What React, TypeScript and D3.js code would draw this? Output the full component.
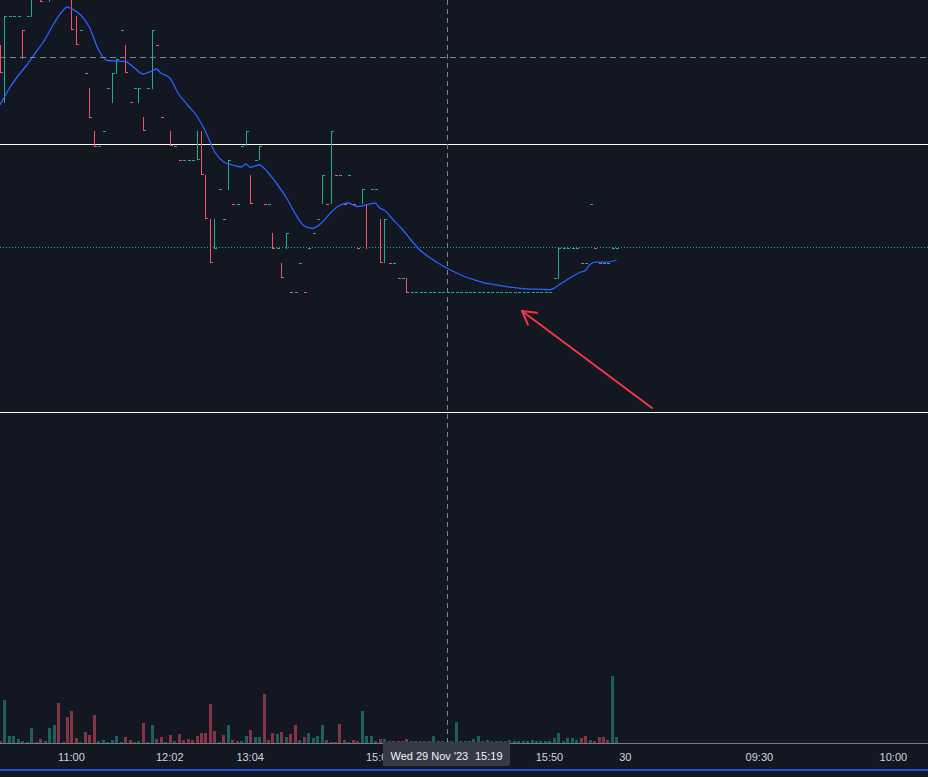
import React from 'react';
import * as d3 from 'd3';

const W = 928;
const H = 777;

// ---- HLC bars (price), index = bar number ----
const barHigh: (number | null)[] = [
  13.75, 14.04, 14.04, 14.04, 14.04, 13.90, 14.04, 14.25, 14.40, 14.28,
  14.35, 14.30, 14.50, 14.60, 14.45, 14.45, 14.30, 14.04, 13.90, 13.47,
  13.32, 12.89, 12.74, 12.89, 13.32, 13.47, 13.61, 13.90, 13.75, 13.18,
  13.32, 13.32, 13.03, 13.32, 13.90, 13.75, 13.03, null, 12.89, 12.74,
  12.60, 12.60, 12.60, 12.60, 12.89, 12.89, 12.45, 12.01, 12.01, 12.31,
  12.01, 12.60, 12.16, 12.16, 12.74, 12.89, 12.45, 12.60, 12.74, 12.16,
  12.16, 11.87, 11.72, 11.57, 11.87, 11.28, 11.28, 11.57, 11.28, 11.72,
  11.87, 12.01, 12.45, 12.16, 12.89, 12.45, 12.45, 12.16, 12.45, 12.16,
  11.72, 12.31, 12.16, 12.31, 12.31, 12.01, 12.01, 11.57, 11.57, 11.42,
  11.42, 11.42, 11.28, 11.28, 11.28, 11.28, 11.28, 11.28, 11.28, 11.28,
  11.28, 11.28, 11.28, 11.28, 11.28, 11.28, 11.28, 11.28, 11.28, 11.28,
  11.28, 11.28, 11.28, 11.28, 11.28, 11.28, 11.28, 11.28, 11.28, 11.28,
  11.28, 11.28, 11.28, 11.28, 11.42, 11.72, 11.72, 11.72, 11.72, 11.72,
  11.57, 11.57, 12.16, 11.72, 11.57, 11.57, 11.57, 11.72, 11.72,
];
const barLow: (number | null)[] = [
  13.48, 13.18, 14.04, 14.04, 14.04, 13.62, 14.04, 14.04, 14.28, 14.185,
  14.23, 14.185, 14.32, 14.40, 14.35, 14.30, 13.91, 13.76, 13.90, 13.47,
  13.03, 12.74, 12.74, 12.89, 13.32, 13.18, 13.47, 13.90, 13.48, 13.18,
  13.32, 13.18, 12.90, 13.32, 13.32, 13.75, 13.03, null, 12.75, 12.74,
  12.60, 12.60, 12.60, 12.60, 12.605, 12.46, 12.02, 11.58, 11.72, 12.31,
  12.01, 12.31, 12.16, 12.16, 12.74, 12.75, 12.17, 12.60, 12.61, 12.16,
  12.16, 11.72, 11.72, 11.43, 11.72, 11.28, 11.28, 11.57, 11.28, 11.72,
  11.87, 12.01, 12.17, 12.16, 12.17, 12.45, 12.45, 12.16, 12.45, 12.16,
  11.72, 12.17, 11.72, 12.31, 12.31, 11.58, 11.58, 11.57, 11.57, 11.42,
  11.42, 11.28, 11.28, 11.28, 11.28, 11.28, 11.28, 11.28, 11.28, 11.28,
  11.28, 11.28, 11.28, 11.28, 11.28, 11.28, 11.28, 11.28, 11.28, 11.28,
  11.28, 11.28, 11.28, 11.28, 11.28, 11.28, 11.28, 11.28, 11.28, 11.28,
  11.28, 11.28, 11.28, 11.28, 11.42, 11.42, 11.72, 11.72, 11.72, 11.72,
  11.57, 11.57, 12.16, 11.72, 11.57, 11.57, 11.57, 11.72, 11.72,
];
const barClose: (number | null)[] = [
  13.48, 14.04, 14.04, 14.04, 14.04, 13.90, 14.04, 14.25, 14.32, 14.19,
  14.30, 14.28, 14.45, 14.42, 14.40, 14.32, 13.91, 13.76, 13.90, 13.47,
  13.03, 12.74, 12.74, 12.89, 13.32, 13.47, 13.61, 13.90, 13.48, 13.18,
  13.32, 13.32, 12.90, 13.32, 13.90, 13.75, 13.03, null, 12.75, 12.74,
  12.60, 12.60, 12.60, 12.60, 12.605, 12.46, 12.02, 11.58, 11.72, 12.31,
  12.01, 12.60, 12.16, 12.16, 12.74, 12.89, 12.17, 12.60, 12.74, 12.16,
  12.16, 11.72, 11.72, 11.43, 11.87, 11.28, 11.28, 11.57, 11.28, 11.72,
  11.87, 12.01, 12.45, 12.16, 12.89, 12.45, 12.45, 12.16, 12.45, 12.16,
  11.72, 12.31, 12.16, 12.31, 12.31, 11.58, 12.01, 11.57, 11.57, 11.42,
  11.42, 11.28, 11.28, 11.28, 11.28, 11.28, 11.28, 11.28, 11.28, 11.28,
  11.28, 11.28, 11.28, 11.28, 11.28, 11.28, 11.28, 11.28, 11.28, 11.28,
  11.28, 11.28, 11.28, 11.28, 11.28, 11.28, 11.28, 11.28, 11.28, 11.28,
  11.28, 11.28, 11.28, 11.28, 11.42, 11.72, 11.72, 11.72, 11.72, 11.72,
  11.57, 11.57, 12.16, 11.72, 11.57, 11.57, 11.57, 11.72, 11.72,
];
// u = up colour, d = down colour (as drawn), ten bars per chunk
const barDir = [
  'duuuuduuud', 'uuududddud', 'dduuuuuudd', 'uuduuddudu', 'duuuuddduu',
  'duduuuduud', 'udududuudu', 'uuudududud', 'duduududud', 'uduuuuuuuu',
  'uuuuuuuuuu', 'uuuuuuuuuu', 'uuuuuuuuuu', 'duudduuuu',
].join('');

// ---- Volume (thousands) ----
const volume: number[] = [
  2.3, 43, 7.3, 7.3, 4.3, 2.3, 1.3, 15.3, 1.3, 4.3,
  2.3, 15.3, 18.3, 40.3, 1.3, 26.3, 32.3, 5.3, 1.3, 11.3,
  8.3, 28.3, 2.3, 3.3, 1.3, 3.3, 7.3, 1.3, 6.3, 3.3,
  1.3, 2.3, 20.3, 1.3, 18.3, 4.3, 6.3, 1.3, 8.3, 2.3,
  9.3, 3.3, 4.3, 3.3, 7.3, 10.3, 10.3, 39.3, 12.3, 1.3,
  8.3, 18.3, 3.3, 2.3, 2.3, 7.3, 13.3, 6.3, 6.3, 49.3,
  3.3, 10.3, 9.3, 11.3, 6.3, 9.3, 18.3, 3.3, 6.3, 10.3,
  5.3, 7.3, 18.3, 3.3, 1.3, 1.3, 19.3, 3.3, 1.3, 3.3,
  2.3, 32.3, 7.3, 7.3, 2.3, 4.3, 4.3, 2.3, 2.3, 2.3,
  2.3, 4.3, 2.3, 2.3, 2.3, 2.3, 2.3, 7.3, 2.3, 2.3,
  2.3, 2.3, 21.3, 2.3, 2.3, 2.3, 4.3, 7.3, 2.3, 3.3,
  2.3, 2.3, 2.3, 2.3, 3.3, 2.3, 2.3, 2.3, 2.3, 3.3,
  2.3, 2.3, 2.3, 2.3, 5.3, 10.3, 2.3, 5.3, 5.3, 3.3,
  5.3, 7.3, 3.3, 2.3, 6.3, 6.3, 3.3, 67, 6.3,
];
const volDir = [
  'duuuuuuuud', 'uuududddud', 'dduuuuuudd', 'uuduuddudu', 'dddddddddu',
  'dudduuduud', 'ddududdudu', 'uuududddud', 'duuuududdd', 'dduuuuuuuu',
  'uuuuuuuuuu', 'uuuuuuuuuu', 'uuuuuuuuuu', 'ddudddduu',
].join('');

// ---- Moving average ----
const maIndex = [
  0, 2, 4, 6, 8, 10, 12, 14, 15, 16, 18, 20, 22, 24, 26, 28, 30, 32, 34, 35,
  36, 38, 40, 42, 44, 46, 48, 50, 52, 54, 55, 56, 58, 60, 62, 64, 66, 68, 70, 72,
  74, 76, 78, 80, 82, 84, 85, 86, 88, 90, 92, 94, 96, 98, 100, 102, 104, 106, 108, 110,
  112, 114, 116, 118, 120, 122, 123, 124, 125, 126, 128, 130, 131, 132, 133, 134, 136, 138,
];
const maValue = [
  13.15, 13.31, 13.44, 13.55, 13.675, 13.80, 13.96, 14.09, 14.13, 14.112,
  14.053, 13.93, 13.705, 13.595, 13.59, 13.585, 13.525, 13.46, 13.49, 13.51,
  13.47, 13.42, 13.26, 13.15, 13.045, 12.885, 12.685, 12.583, 12.55, 12.53,
  12.56, 12.527, 12.55, 12.475, 12.36, 12.23, 12.07, 11.945, 11.915, 11.97,
  12.073, 12.145, 12.17, 12.135, 12.152, 12.168, 12.12, 12.10, 12.003, 11.91,
  11.80, 11.70, 11.63, 11.573, 11.52, 11.475, 11.435, 11.403, 11.377, 11.358,
  11.343, 11.328, 11.319, 11.312, 11.308, 11.305, 11.303, 11.316, 11.348, 11.375,
  11.432, 11.48, 11.494, 11.552, 11.577, 11.578, 11.579, 11.60,
];

// ---- Drawings ----
const hLevels = [12.755, 10.07];
const lastPrice = 11.72;
const crossIndex = 100;
const crossPrice = 13.63;
const arrowFrom = { i: 145.96, p: 10.12 };
const arrowTo = { i: 116.86, p: 11.09 };

// ---- Time axis ----
const tickIndex = [16, 38, 56, 85, 123, 140, 170, 200];
const tickLabel = ['11:00', '12:02', '13:04', '15:06', '15:50', '30', '09:30', '10:00'];
const tooltipDate = "Wed 29 Nov '23";
const tooltipTime = '15:19';

const UP = '#22ab94';
const DOWN = '#f7525f';
const BG = '#131722';

export default function App() {
  const paneBottom = 743;
  const xs = d3.scaleLinear().domain([0, 207.75]).range([0, W]);
  const yp = d3.scaleLinear().domain([6.77, 14.2]).range([paneBottom, 0]);
  const yv = d3.scaleLinear().domain([0, 67]).range([paneBottom, paneBottom - 67]);

  const maPts = maIndex.map((i, k) => ({ i, v: maValue[k] }));
  const maLine = d3
    .line<{ i: number; v: number }>()
    .x((d) => xs(d.i))
    .y((d) => yp(d.v))
    .curve(d3.curveMonotoneX)(maPts) as string;

  const snap = (v: number) => Math.round(v) + 0.5;

  // arrow geometry
  const ax1 = xs(arrowFrom.i), ay1 = yp(arrowFrom.p);
  const ax2 = xs(arrowTo.i), ay2 = yp(arrowTo.p);
  const ang = Math.atan2(ay1 - ay2, ax1 - ax2);
  const headLen = 15;
  const h1 = [ax2 + headLen * Math.cos(ang - 0.52), ay2 + headLen * Math.sin(ang - 0.52)];
  const h2 = [ax2 + headLen * Math.cos(ang + 0.52), ay2 + headLen * Math.sin(ang + 0.52)];

  const font = "'Liberation Sans', Arial, sans-serif";
  const tipX = 383, tipW = 127;

  return (
    <svg
      width={W}
      height={H}
      style={{ position: 'absolute', left: 0, top: 0, display: 'block' }}
      shapeRendering="crispEdges"
    >
      <defs>
        <clipPath id="pane">
          <rect x={0} y={0} width={W} height={paneBottom} />
        </clipPath>
      </defs>
      <rect x={0} y={0} width={W} height={H} fill={BG} />

      <g clipPath="url(#pane)">
        {/* volume */}
        {volume.map((v, i) => {
          const px = Math.round(xs(i));
          const top = yv(v);
          return (
            <rect
              key={'v' + i}
              x={px - 1}
              y={top}
              width={3}
              height={paneBottom - top}
              fill={volDir[i] === 'd' ? DOWN : UP}
              fillOpacity={0.5}
            />
          );
        })}

        {/* horizontal drawn levels */}
        {hLevels.map((p, k) => (
          <line key={'h' + k} x1={0} x2={W} y1={snap(yp(p) - 0.5)} y2={snap(yp(p) - 0.5)} stroke="#ffffff" strokeWidth={1} />
        ))}

        {/* last price dotted line */}
        <line
          x1={0}
          x2={W}
          y1={snap(yp(lastPrice) - 0.5)}
          y2={snap(yp(lastPrice) - 0.5)}
          stroke={UP}
          strokeWidth={1}
          strokeDasharray="1 2"
        />

        {/* HLC bars */}
        {barClose.map((c, i) => {
          const hi = barHigh[i];
          const lo = barLow[i];
          if (c == null || hi == null || lo == null) return null;
          const px = Math.round(xs(i));
          const col = barDir[i] === 'd' ? DOWN : UP;
          const yH = Math.round(yp(hi));
          const yL = Math.round(yp(lo));
          const yC = Math.round(yp(c));
          let d = `M${px},${yC + 0.5}H${px + 3}`;
          if (yL > yH) d = `M${px + 0.5},${yH}V${yL + 1}` + d;
          return <path key={'b' + i} d={d} stroke={col} strokeWidth={1} fill="none" />;
        })}

        {/* moving average */}
        <path d={maLine} fill="none" stroke="#2962ff" strokeWidth={1.3} shapeRendering="auto" />

        {/* crosshair */}
        <line x1={0} x2={W} y1={snap(yp(crossPrice))} y2={snap(yp(crossPrice))} stroke="#758696" strokeWidth={1} strokeDasharray="6 4" />
        <line x1={snap(xs(crossIndex))} x2={snap(xs(crossIndex))} y1={0} y2={paneBottom} stroke="#758696" strokeWidth={1} strokeDasharray="5 4" />

        {/* arrow */}
        <g stroke="#f23645" strokeWidth={2} strokeLinecap="round" fill="none" shapeRendering="auto">
          <line x1={ax1} y1={ay1} x2={ax2} y2={ay2} />
          <polyline points={`${h1[0]},${h1[1]} ${ax2},${ay2} ${h2[0]},${h2[1]}`} strokeLinejoin="round" />
        </g>
      </g>

      {/* time axis */}
      <line x1={0} x2={W} y1={paneBottom + 0.5} y2={paneBottom + 0.5} stroke="#787b86" strokeWidth={1} />
      <g fontFamily={font} fontSize={11} fill="#d1d4dc" textAnchor="middle" shapeRendering="auto">
        {tickIndex.map((ti, k) => (
          <text key={'t' + k} x={xs(ti)} y={760.5}>
            {tickLabel[k]}
          </text>
        ))}
      </g>

      {/* crosshair time tooltip */}
      <rect x={tipX} y={742} width={tipW} height={24} rx={2} fill="#363a45" />
      <g fontFamily={font} fontSize={11} fill="#f0f3fa" shapeRendering="auto">
        <text x={tipX + 7.5} y={759.5}>{tooltipDate}</text>
        <text x={tipX + 92} y={759.5}>{tooltipTime}</text>
      </g>

      {/* bottom strip */}
      <rect x={0} y={769} width={W} height={2} fill="#1f4fd8" />
    </svg>
  );
}
